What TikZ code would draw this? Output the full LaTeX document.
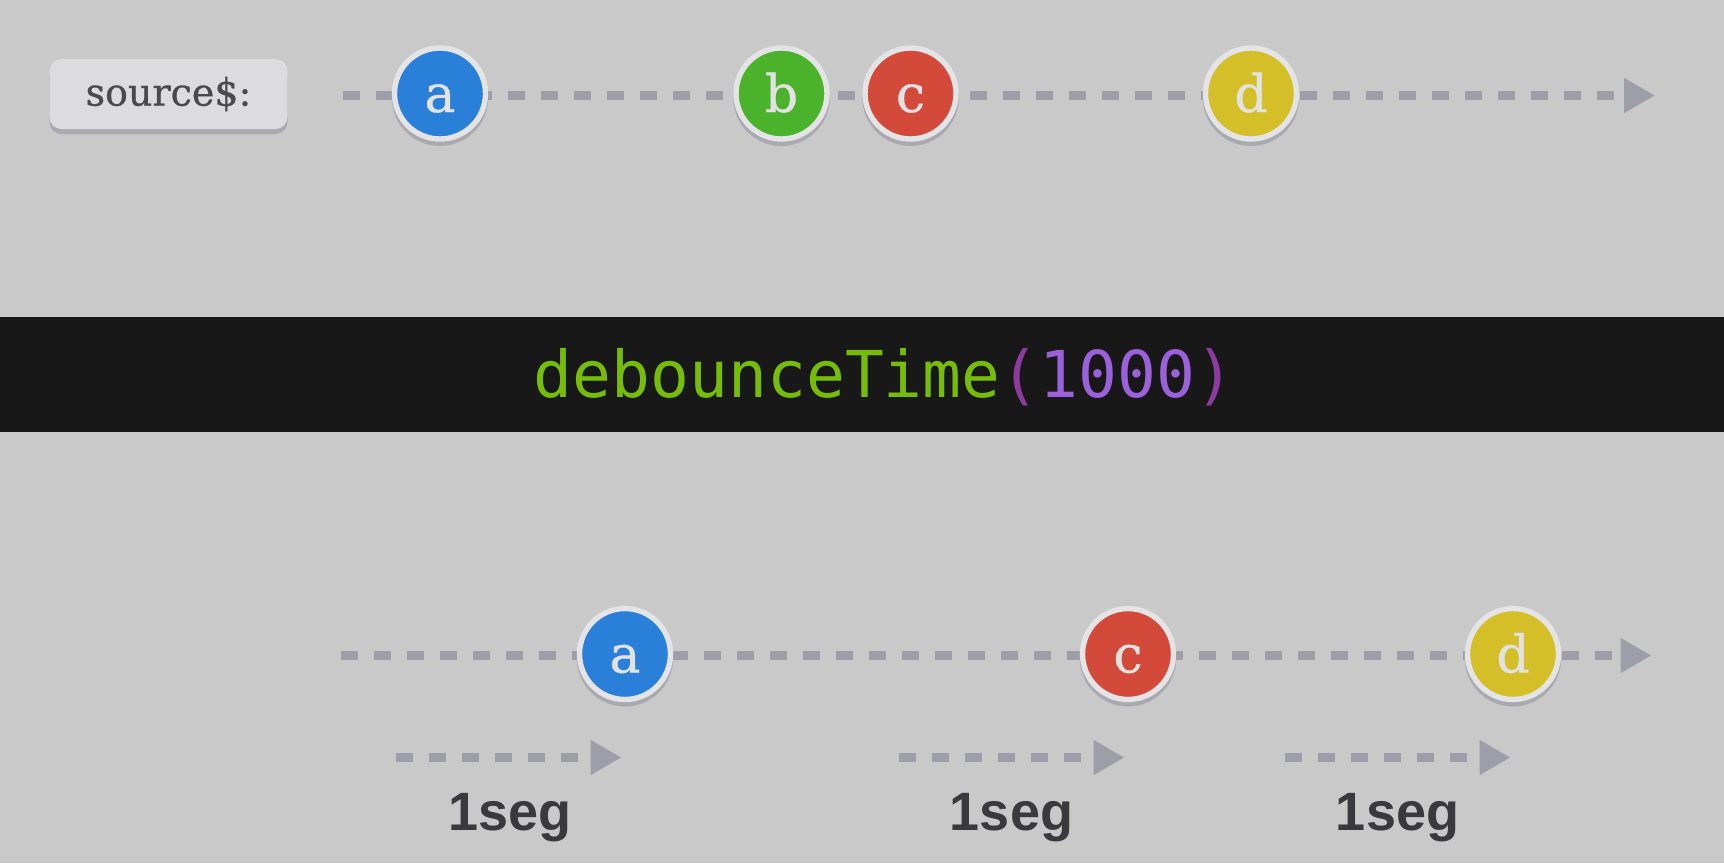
\documentclass[tikz,border=0pt]{standalone}
\usepackage{fontspec}
\usetikzlibrary{arrows.meta,shadows}
\newfontfamily\slabfont[FakeBold=0.7]{DejaVu Serif}
\newfontfamily\codefont{DejaVu Sans Mono}
\newfontfamily\labfont{Liberation Sans}
\definecolor{bgc}{HTML}{C9C9CA}
\definecolor{bandc}{HTML}{181818}
\definecolor{dashc}{HTML}{9E9EA8}
\definecolor{ringc}{HTML}{E4E4E6}
\definecolor{shadc}{HTML}{A9A9B0}
\definecolor{mblue}{HTML}{2A80D9}
\definecolor{mgreen}{HTML}{4BB22C}
\definecolor{mred}{HTML}{D44A3A}
\definecolor{myellow}{HTML}{D5BF29}
\definecolor{mlett}{HTML}{E2E2E2}
\definecolor{codegreen}{HTML}{76BC0A}
\definecolor{codepurple}{HTML}{9B61DA}
\definecolor{codeparen}{HTML}{8E3B9F}
\definecolor{srcfill}{HTML}{DCDCDE}
\definecolor{srctext}{HTML}{4A4A4E}
\definecolor{labc}{HTML}{3A3A3E}
\tikzset{
  timeline/.style={draw=dashc, line width=4.75pt, dash pattern=on 8.5pt off 8pt,
    -{Triangle[length=15.5pt,width=16.5pt,fill=dashc]}},
  marble/.style={circle, minimum size=45.5pt, inner sep=0pt, line width=2.7pt,
    draw=ringc, text=mlett, font=\slabfont\fontsize{26}{30}\selectfont,
    text height=18.5pt, text depth=0pt,
    drop shadow={shadow xshift=0pt, shadow yshift=-2pt, shadow scale=1.06, fill=shadc, opacity=1}},
  srcbox/.style={rectangle, rounded corners=6pt, minimum width=119pt, minimum height=35pt,
    fill=srcfill, text=srctext, font=\slabfont\fontsize{19}{22}\selectfont,
    drop shadow={shadow xshift=0pt, shadow yshift=-2.5pt, fill=shadc, opacity=1}},
  seglabel/.style={anchor=base, text=labc, font=\labfont\bfseries\fontsize{27}{32}\selectfont},
}
\begin{document}
\begin{tikzpicture}[x=0.5pt,y=-0.5pt]
\useasboundingbox (0,0) rectangle (1724,863);
\fill[bgc] (0,0) rectangle (1724,863);
% band
\fill[bandc] (0,316.7) rectangle (1724,432.2);
\node[anchor=base, inner sep=0pt, font=\codefont\fontsize{32.3}{38}\selectfont] (op) at (884,397)
  {\textcolor{codegreen}{debounceTime}\textcolor{codeparen}{(}\textcolor{codepurple}{1000}\textcolor{codeparen}{)}};
% source label
\node[srcbox] (src) at (168.5,94) {source\$:};
% top timeline
\coordinate (s1) at (343,95.5);
\coordinate (e1) at (1655,95.5);
\draw[timeline] (s1) -- (e1);
\node[marble, fill=mblue] (ta) at (440,93.5) {a};
\node[marble, fill=mgreen] (tb) at (781.5,93.5) {b};
\node[marble, fill=mred] (tc) at (910.5,93.5) {c};
\node[marble, fill=myellow] (td) at (1251,93.5) {d};
% bottom timeline
\coordinate (s2) at (341,655.5);
\coordinate (e2) at (1651.5,655.5);
\draw[timeline] (s2) -- (e2);
\node[marble, fill=mblue] (ba) at (625,654) {a};
\node[marble, fill=mred] (bc) at (1128,654) {c};
\node[marble, fill=myellow] (bd) at (1513,654) {d};
% one-second arrows
\coordinate (p1s) at (396,757.5);
\coordinate (p1e) at (621.5,757.5);
\coordinate (p2s) at (899,757.5);
\coordinate (p2e) at (1124.5,757.5);
\coordinate (p3s) at (1285,757.5);
\coordinate (p3e) at (1510.5,757.5);
\draw[timeline] (p1s) -- (p1e);
\draw[timeline] (p2s) -- (p2e);
\draw[timeline] (p3s) -- (p3e);
\node[seglabel] (l1) at (510,830) {1seg};
\node[seglabel] (l2) at (1011.5,830) {1seg};
\node[seglabel] (l3) at (1397.5,830) {1seg};
\end{tikzpicture}
\end{document}
